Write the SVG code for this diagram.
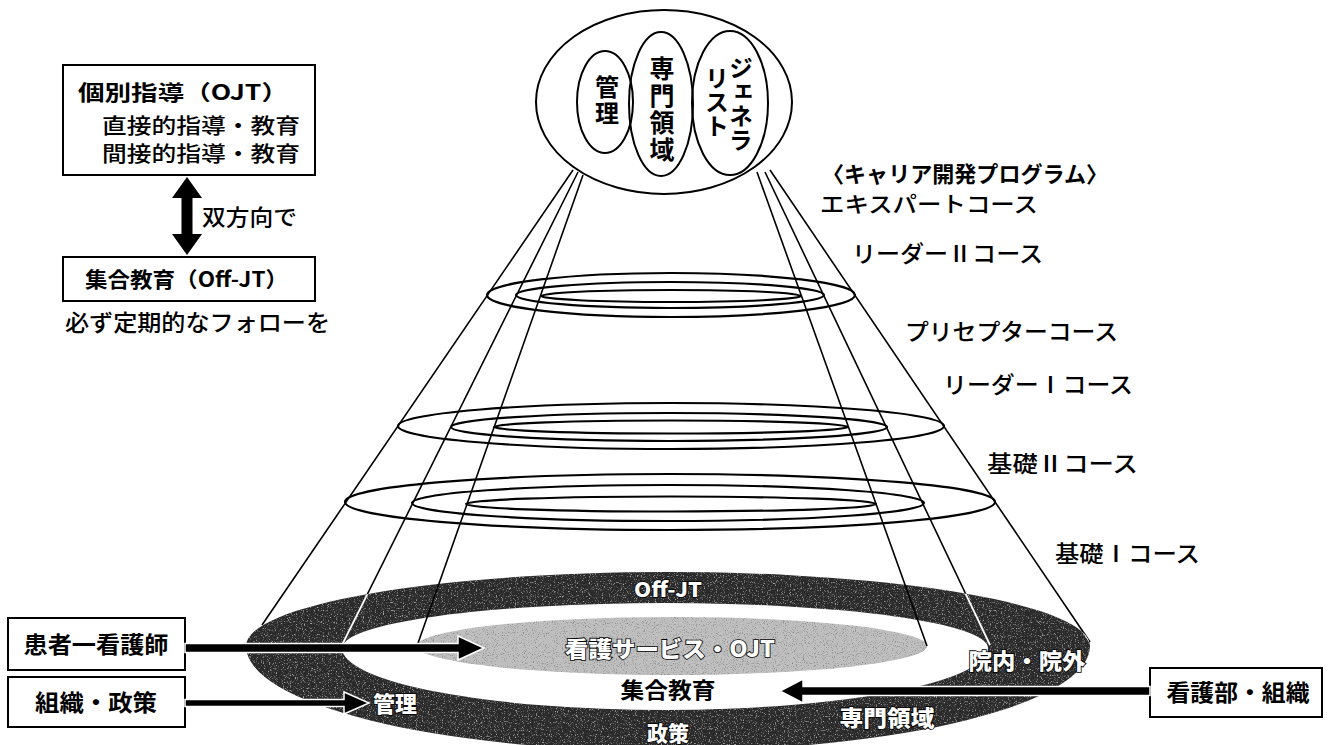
<svg xmlns="http://www.w3.org/2000/svg" width="1330" height="745" viewBox="0 0 1330 745">
<style>
text{font-family:"Noto Sans CJK JP","Noto Sans",sans-serif;fill:#000}
.b{font-weight:700}
.r{font-weight:500}
.box{fill:#fff;stroke:#000;stroke-width:2}
.ln{fill:none;stroke:#000;stroke-width:2}
.cone{fill:none;stroke:#000;stroke-width:1.6}
.ring{fill:none;stroke:#000;stroke-width:2.2}
.band{fill:#fff;stroke:#000;stroke-width:1.6;font-weight:900;paint-order:stroke}
.vt{writing-mode:vertical-rl;font-weight:700}
.arr{fill:#000;stroke:#fff;stroke-width:1.5}
</style>
<defs>
<filter id="noise" x="0" y="0" width="100%" height="100%">
<feTurbulence type="fractalNoise" baseFrequency="0.85" numOctaves="2" seed="4"/>
<feColorMatrix type="matrix" values="0 0 0 0 1  0 0 0 0 1  0 0 0 0 1  4 0 0 0 -2.2"/>
</filter>
<filter id="noise2" x="0" y="0" width="100%" height="100%">
<feTurbulence type="fractalNoise" baseFrequency="0.9" numOctaves="2" seed="9"/>
<feColorMatrix type="matrix" values="0 0 0 0 0  0 0 0 0 0  0 0 0 0 0  3 0 0 0 -1.6"/>
</filter>
<clipPath id="bandClip">
<path clip-rule="evenodd" d="M246,646 A422,74 0 0 1 1090,646 A422,105 0 0 1 246,646 Z M342,648 A323,45 0 0 1 988,648 A323,62 0 0 1 342,648 Z"/>
</clipPath>
<clipPath id="greyClip"><ellipse cx="672" cy="646" rx="255" ry="29"/></clipPath>
</defs>
<rect width="1330" height="745" fill="#fff"/>

<g id="base-ring">
<path fill="#2a2a2a" fill-rule="evenodd" d="M246,646 A422,74 0 0 1 1090,646 A422,105 0 0 1 246,646 Z M342,648 A323,45 0 0 1 988,648 A323,62 0 0 1 342,648 Z"/>
<rect x="240" y="565" width="860" height="180" filter="url(#noise)" clip-path="url(#bandClip)" opacity="0.6"/>
<ellipse cx="672" cy="646" rx="255" ry="29" fill="#c0c0c0"/>
<rect x="410" y="610" width="525" height="70" filter="url(#noise2)" clip-path="url(#greyClip)" opacity="0.35"/>
</g>

<g id="cone">
<line class="cone" x1="573" y1="170" x2="262" y2="625"/>
<line class="cone" x1="578" y1="172" x2="342" y2="645"/>
<line class="cone" x1="583" y1="175" x2="417" y2="646"/>
<line class="cone" x1="757" y1="172" x2="927" y2="646"/>
<line class="cone" x1="765" y1="172" x2="990" y2="645"/>
<line class="cone" x1="770" y1="170" x2="1090" y2="642"/>
<g clip-path="url(#bandClip)" stroke="#fff" stroke-width="1.8">
<line x1="573" y1="170" x2="262" y2="625"/>
<line x1="578" y1="172" x2="342" y2="645"/>
<line x1="765" y1="172" x2="990" y2="645"/>
<line x1="770" y1="170" x2="1090" y2="642"/>
</g>
</g>

<g id="rings">
<ellipse class="ring" cx="671" cy="295" rx="184" ry="22"/>
<ellipse class="ring" cx="670" cy="295" rx="154" ry="13"/>
<ellipse class="ring" cx="671" cy="296" rx="130" ry="6"/>
<ellipse class="ring" cx="671" cy="426" rx="273" ry="23"/>
<ellipse class="ring" cx="669" cy="427" rx="218" ry="14"/>
<ellipse class="ring" cx="671" cy="427" rx="177" ry="6.5"/>
<ellipse class="ring" cx="670" cy="502" rx="325" ry="28"/>
<ellipse class="ring" cx="668" cy="503" rx="256" ry="18"/>
<ellipse class="ring" cx="671" cy="504" rx="205" ry="7.5"/>
</g>

<g id="top-node">
<ellipse class="ln" cx="664" cy="102" rx="128" ry="92" fill="#fff"/>
<ellipse class="ln" cx="605" cy="102" rx="28" ry="51"/>
<ellipse class="ln" cx="661" cy="104" rx="32" ry="72"/>
<ellipse class="ln" cx="730" cy="103" rx="38" ry="72"/>
<text class="vt" x="607" y="75" font-size="24" letter-spacing="2">管理</text>
<text class="vt" x="662" y="56" font-size="25" letter-spacing="2">専門領域</text>
<text class="vt" x="741" y="56" font-size="24">ジェネラ</text>
<text class="vt" x="717" y="66" font-size="24">リスト</text>
</g>

<g id="ojt-box">
<rect class="box" x="63" y="65" width="252" height="110"/>
<text class="b" x="78" y="100" font-size="21" textLength="210" lengthAdjust="spacingAndGlyphs">個別指導（OJT）</text>
<text class="r" x="102" y="133" font-size="21" textLength="198" lengthAdjust="spacingAndGlyphs">直接的指導・教育</text>
<text class="r" x="102" y="161" font-size="21" textLength="198" lengthAdjust="spacingAndGlyphs">間接的指導・教育</text>
</g>

<g id="offjt-box">
<rect class="box" x="63" y="257" width="252" height="44"/>
<text class="b" x="85" y="287" font-size="21" textLength="203" lengthAdjust="spacingAndGlyphs">集合教育（Off-JT）</text>
<text class="r" x="65" y="331" font-size="23" textLength="265" lengthAdjust="spacingAndGlyphs">必ず定期的なフォローを</text>
</g>

<g id="bidirectional-label">
<text class="r" x="202" y="225" font-size="22" textLength="95" lengthAdjust="spacingAndGlyphs">双方向で</text>
</g>

<g id="career-labels">
<text class="b" x="822" y="182" font-size="22" textLength="286" lengthAdjust="spacingAndGlyphs">〈キャリア開発プログラム〉</text>
<text class="r" x="820" y="212" font-size="22" textLength="218" lengthAdjust="spacingAndGlyphs">エキスパートコース</text>
<text class="r" x="852" y="262" font-size="23" textLength="191" lengthAdjust="spacingAndGlyphs">リーダーⅡコース</text>
<text class="r" x="905" y="340" font-size="23" textLength="213" lengthAdjust="spacingAndGlyphs">プリセプターコース</text>
<text class="r" x="943" y="393" font-size="23" textLength="190" lengthAdjust="spacingAndGlyphs">リーダーⅠコース</text>
<text class="r" x="987" y="472" font-size="23" textLength="151" lengthAdjust="spacingAndGlyphs">基礎Ⅱコース</text>
<text class="r" x="1055" y="562" font-size="23" textLength="145" lengthAdjust="spacingAndGlyphs">基礎Ⅰコース</text>
</g>

<g id="base-labels">
<text class="band" x="668" y="597" font-size="20" text-anchor="middle" textLength="68" lengthAdjust="spacingAndGlyphs">Off-JT</text>
<text class="band" x="670" y="657" font-size="22" text-anchor="middle" textLength="210" lengthAdjust="spacingAndGlyphs">看護サービス・OJT</text>
<text class="band" x="395" y="712" font-size="22" text-anchor="middle">管理</text>
<text class="b" x="668" y="698" font-size="22" text-anchor="middle" textLength="95" lengthAdjust="spacingAndGlyphs">集合教育</text>
<text class="band" x="668" y="741" font-size="21" text-anchor="middle">政策</text>
<text class="band" x="887" y="726" font-size="22" text-anchor="middle" textLength="95" lengthAdjust="spacingAndGlyphs">専門領域</text>
<text class="band" x="1027" y="669" font-size="22" text-anchor="middle" textLength="117" lengthAdjust="spacingAndGlyphs">院内・院外</text>
</g>

<g id="patient-nurse">
<rect class="box" x="8" y="618" width="177" height="52"/>
<text class="b" x="96" y="653" font-size="23" text-anchor="middle" textLength="145" lengthAdjust="spacingAndGlyphs">患者一看護師</text>
</g>
<g id="org-policy">
<rect class="box" x="8" y="677" width="177" height="50"/>
<text class="b" x="96" y="711" font-size="23" text-anchor="middle" textLength="122" lengthAdjust="spacingAndGlyphs">組織・政策</text>
</g>
<g id="nursing-dept">
<rect class="box" x="1150" y="668" width="172" height="49"/>
<text class="b" x="1238" y="701" font-size="23" text-anchor="middle" textLength="143" lengthAdjust="spacingAndGlyphs">看護部・組織</text>
</g>

<g id="connectors">
<polygon fill="#000" points="187,177 202,198 192.5,198 192.5,234 202,234 187,255 172,234 181.5,234 181.5,198 172,198"/>
<polygon class="arr" points="185,643.5 458,643.5 458,636 484,648 458,660 458,652.5 185,652.5"/>
<polygon class="arr" points="185,699.5 344,699.5 344,692 369,703 344,714 344,706.5 185,706.5"/>
<polygon class="arr" points="1150,686.5 803,686.5 803,679 780,691 803,703 803,695.5 1150,695.5"/>
</g>
</svg>
